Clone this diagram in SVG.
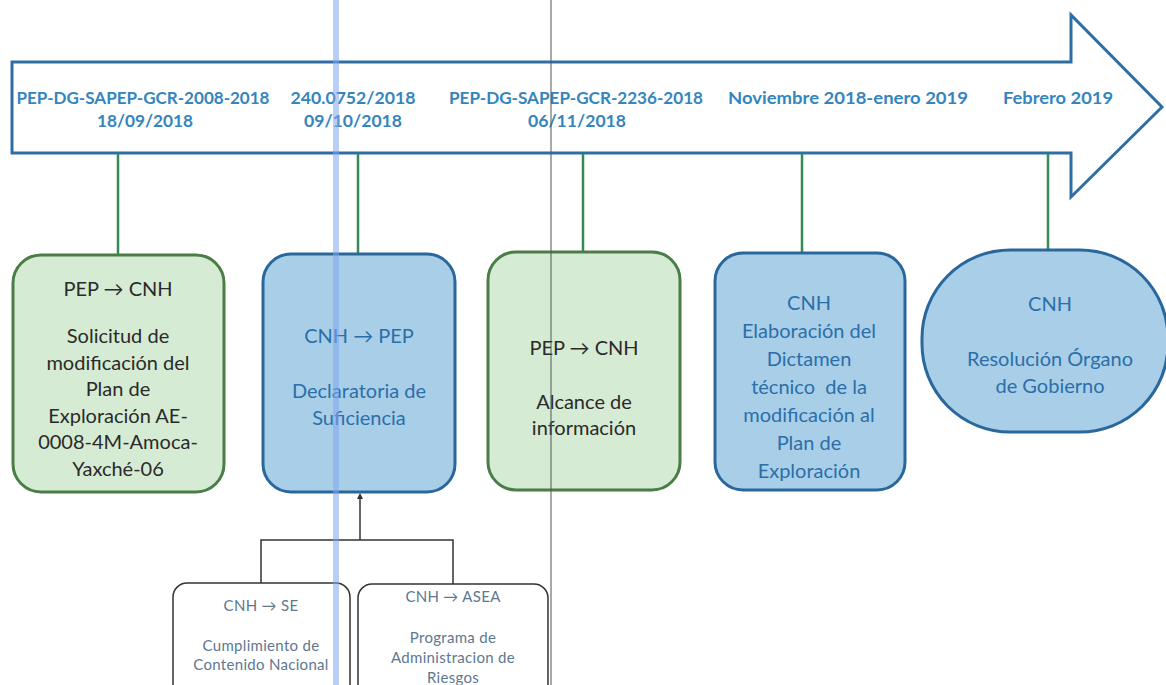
<svg xmlns="http://www.w3.org/2000/svg" width="1166" height="685" viewBox="0 0 1166 685">
<defs>
<style>
.lbl{font-family:Lato,"Liberation Sans",sans-serif;font-weight:bold;font-size:17.5px;fill:#3485bd;text-anchor:middle;dominant-baseline:central}
.t{font-family:Lato,"Liberation Sans",sans-serif;font-size:20px;text-anchor:middle;dominant-baseline:central;white-space:pre}
.dk{fill:#2a2a2a}
.bl{fill:#2c6fa8}
.sm{font-family:Lato,"Liberation Sans",sans-serif;font-size:15px;letter-spacing:0.3px;fill:#5d7890;text-anchor:middle;dominant-baseline:central}
.gbox{fill:#d6ebd4;stroke:#4b7d46;stroke-width:3}
.bbox{fill:#a8cee8;stroke:#2a679b;stroke-width:3}
.sbox{fill:#ffffff;stroke:#333333;stroke-width:1.5}
.gc{stroke:#358a55;stroke-width:2.5;fill:none}
.kc{stroke:#333333;stroke-width:1.5;fill:none}
</style>
<marker id="ah" markerWidth="6" markerHeight="6" refX="3" refY="3" orient="auto" markerUnits="userSpaceOnUse">
<path d="M0,0 L6,3 L0,6 Z" fill="#333333"/>
</marker>
</defs>
<rect width="1166" height="685" fill="#ffffff"/>

<g id="timeline">
<path d="M12,62 H1071 V15 L1162,107 L1071,197 V153 H12 Z" fill="#ffffff" stroke="#2f6ea5" stroke-width="3" stroke-linejoin="miter"/>
<text class="lbl" x="143" y="97" textLength="253" lengthAdjust="spacingAndGlyphs">PEP-DG-SAPEP-GCR-2008-2018</text>
<text class="lbl" x="145" y="120" textLength="96" lengthAdjust="spacingAndGlyphs">18/09/2018</text>
<text class="lbl" x="353" y="97" textLength="125" lengthAdjust="spacingAndGlyphs">240.0752/2018</text>
<text class="lbl" x="353" y="120" textLength="98" lengthAdjust="spacingAndGlyphs">09/10/2018</text>
<text class="lbl" x="576" y="97" textLength="254" lengthAdjust="spacingAndGlyphs">PEP-DG-SAPEP-GCR-2236-2018</text>
<text class="lbl" x="577" y="120" textLength="98" lengthAdjust="spacingAndGlyphs">06/11/2018</text>
<text class="lbl" x="848" y="97" textLength="240" lengthAdjust="spacingAndGlyphs">Noviembre 2018-enero 2019</text>
<text class="lbl" x="1058" y="97" textLength="110" lengthAdjust="spacingAndGlyphs">Febrero 2019</text>
</g>

<g id="connectors">
<line class="gc" x1="118" y1="154" x2="118" y2="255"/>
<line class="gc" x1="358" y1="154" x2="358" y2="254"/>
<line class="gc" x1="583" y1="154" x2="583" y2="252"/>
<line class="gc" x1="802" y1="154" x2="802" y2="253"/>
<line class="gc" x1="1048" y1="154" x2="1048" y2="250"/>
<path class="kc" d="M261,583 V540 H453 V584"/>
<line class="kc" x1="360" y1="540" x2="360" y2="496" marker-end="url(#ah)"/>
</g>

<g id="n1">
<rect class="gbox" x="13" y="255" width="211" height="237" rx="28"/>
<text class="t dk" x="118" y="288">PEP → CNH</text>
<text class="t dk" x="118" y="335">Solicitud de</text>
<text class="t dk" x="118" y="362">modificación del</text>
<text class="t dk" x="118" y="388">Plan de</text>
<text class="t dk" x="118" y="415">Exploración AE-</text>
<text class="t dk" x="118" y="441">0008-4M-Amoca-</text>
<text class="t dk" x="118" y="468">Yaxché-06</text>
</g>

<g id="n2">
<rect class="bbox" x="263" y="254" width="192" height="238" rx="28"/>
<text class="t bl" x="359" y="335">CNH → PEP</text>
<text class="t bl" x="359" y="390">Declaratoria de</text>
<text class="t bl" x="359" y="417">Suficiencia</text>
</g>

<g id="n3">
<rect class="gbox" x="488" y="252" width="192" height="238" rx="28"/>
<text class="t dk" x="584" y="347">PEP → CNH</text>
<text class="t dk" x="584" y="401">Alcance de</text>
<text class="t dk" x="584" y="427">información</text>
</g>

<g id="n4">
<rect class="bbox" x="715" y="253" width="190" height="237" rx="28"/>
<text class="t bl" x="809" y="302">CNH</text>
<text class="t bl" x="809" y="330">Elaboración del</text>
<text class="t bl" x="809" y="358">Dictamen</text>
<text class="t bl" x="809" y="386">técnico  de la</text>
<text class="t bl" x="809" y="414">modificación al</text>
<text class="t bl" x="809" y="442">Plan de</text>
<text class="t bl" x="809" y="470">Exploración</text>
</g>

<g id="n5">
<rect class="bbox" x="922" y="250" width="246" height="182" rx="88" ry="88"/>
<text class="t bl" x="1050" y="303">CNH</text>
<text class="t bl" x="1050" y="358">Resolución Órgano</text>
<text class="t bl" x="1050" y="385">de Gobierno</text>
</g>

<g id="n6">
<rect class="sbox" x="173" y="583" width="177" height="130" rx="14"/>
<text class="sm" x="261" y="605">CNH → SE</text>
<text class="sm" x="261" y="645">Cumplimiento de</text>
<text class="sm" x="261" y="664">Contenido Nacional</text>
</g>

<g id="n7">
<rect class="sbox" x="358" y="584" width="190" height="130" rx="14"/>
<text class="sm" x="453" y="596">CNH → ASEA</text>
<text class="sm" x="453" y="637">Programa de</text>
<text class="sm" x="453" y="657">Administracion de</text>
<text class="sm" x="453" y="677">Riesgos</text>
</g>

<g id="scan-marks">
<rect x="333" y="0" width="6" height="685" fill="#7fa6ee" opacity="0.55"/>
<line x1="551" y1="0" x2="551" y2="685" stroke="#555555" stroke-width="1"/>
</g>
</svg>
